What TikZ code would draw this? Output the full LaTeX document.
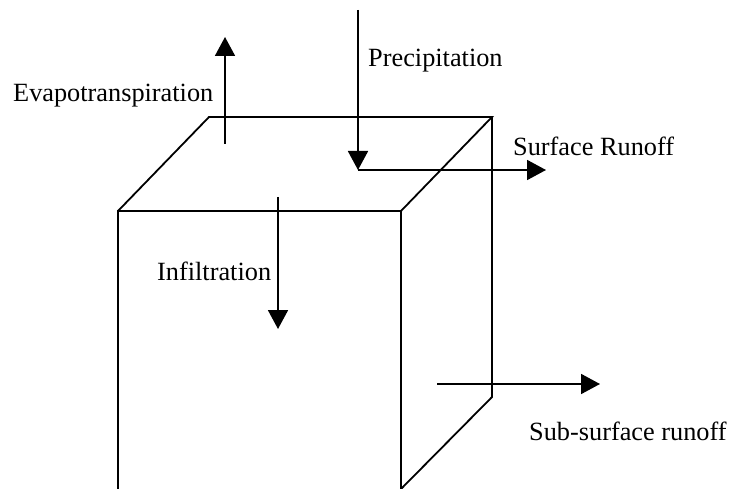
\documentclass[tikz,border=0pt]{standalone}
\usepackage{fontspec}
\setmainfont{Liberation Serif}
\usetikzlibrary{positioning,arrows.meta}

\begin{document}
\begin{tikzpicture}[
    x=1pt, y=-1pt,
    edge/.style={line width=1.8pt},
    flow/.style={-{Triangle[length=19pt,width=20pt]}, line width=1.8pt},
    label/.style={font=\fontsize{26.3}{30}\selectfont, inner sep=0pt, anchor=base west}
]
    \useasboundingbox (0,0) rectangle (731,489);
    % box corners
    \coordinate (ftl) at (118,211);
    \coordinate (ftr) at (401,211);
    \coordinate (fbl) at (118,489);
    \coordinate (fbr) at (401,489);
    \coordinate (btl) at (209,117);
    \coordinate (btr) at (492,117);
    \coordinate (bbr) at (492,397);

    \draw[edge] (fbl) -- (ftl) -- (ftr) -- (fbr);
    \draw[edge] (ftl) -- (btl) -- (btr) -- (ftr);
    \draw[edge] (btr) -- (bbr) -- (fbr);

    % flows
    \coordinate (evapS) at (225,144);
    \coordinate (evapE) at (225,37);
    \coordinate (precS) at (358,10);
    \coordinate (precE) at (358,170);
    \coordinate (surfE) at (546,170);
    \coordinate (infS) at (278,197);
    \coordinate (infE) at (278,329);
    \coordinate (subS) at (437,384);
    \coordinate (subE) at (600,384);

    \draw[flow] (evapS) -- (evapE);
    \draw[flow] (precS) -- (precE);
    \draw[flow] (precE) -- (surfE);
    \draw[flow] (infS) -- (infE);
    \draw[flow] (subS) -- (subE);

    % labels
    \node[label] (evap) at (13,102) {Evapotranspiration};
    \node[label] (prec) at (368,67) {Precipitation};
    \node[label] (surf) at (513,156) {Surface Runoff};
    \node[label] (inf) at (157,280) {Infiltration};
    \node[label] (sub) at (529,440) {Sub-surface runoff};
\end{tikzpicture}
\end{document}
